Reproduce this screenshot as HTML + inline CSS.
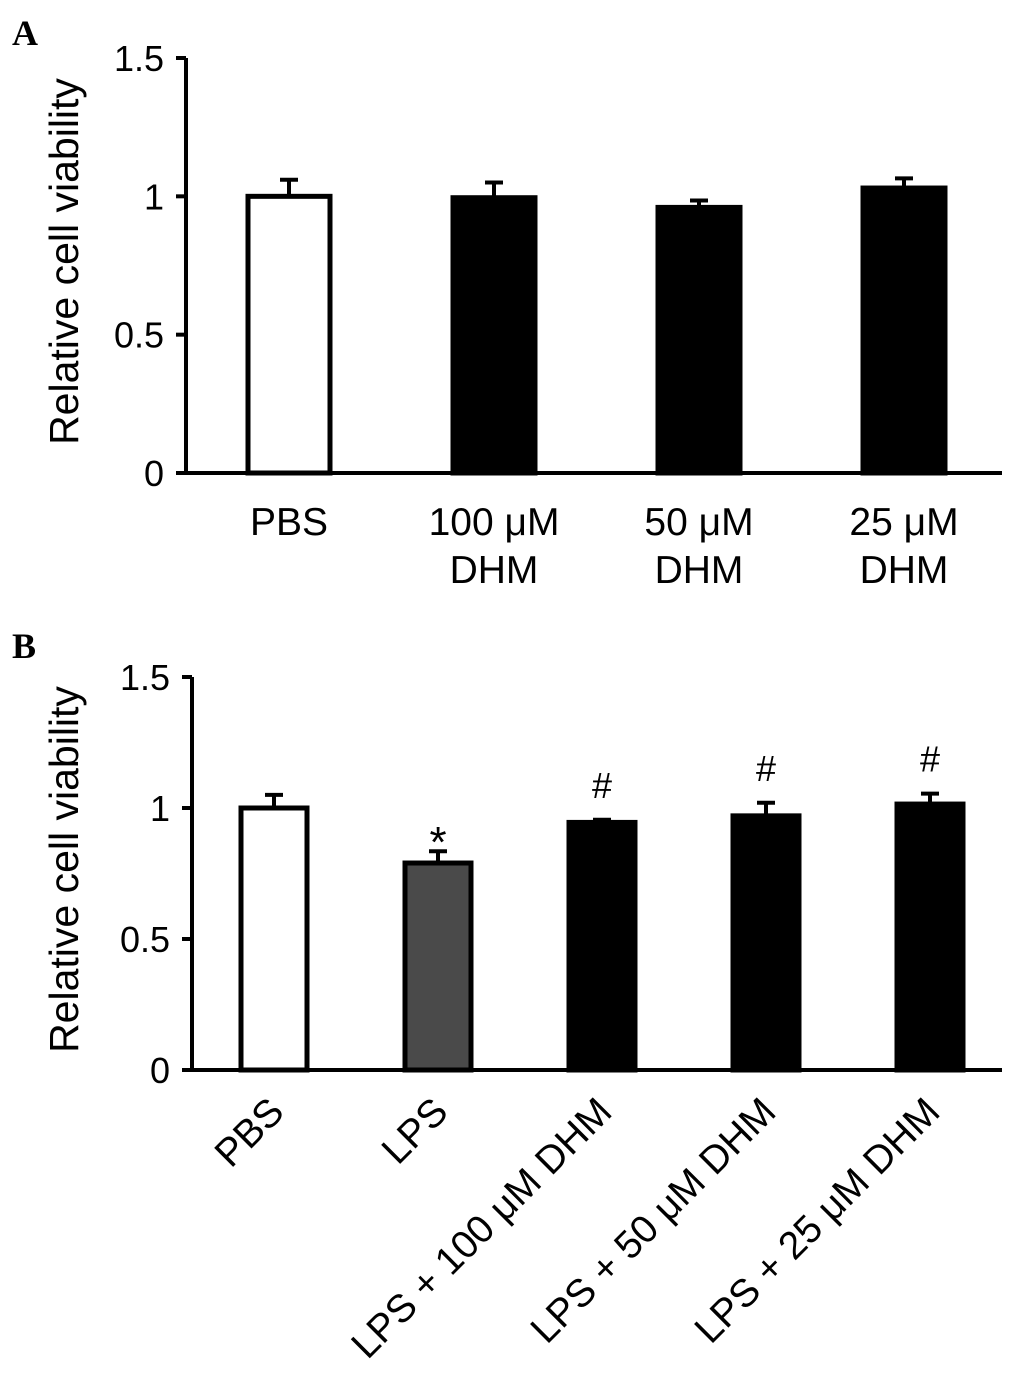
<!DOCTYPE html>
<html><head><meta charset="utf-8"><style>
html,body{margin:0;padding:0;background:#fff;}
svg{display:block;font-family:"Liberation Sans",Arial,sans-serif;}
</style></head><body>
<svg id="chart" width="1022" height="1381" viewBox="0 0 1022 1381" xmlns="http://www.w3.org/2000/svg">
<text x="12" y="45" font-family="Liberation Serif,serif" font-weight="bold" font-size="36">A</text>
<text x="12" y="658" font-family="Liberation Serif,serif" font-weight="bold" font-size="36">B</text>
<g id="pa"></g>
<g id="pb"></g>
</svg>
<script>
// Panel A data
const catsA = [["PBS"],["100 μM","DHM"],["50 μM","DHM"],["25 μM","DHM"]];
const valsA = [1.00, 0.995, 0.96, 1.03];
const errA = [0.06, 0.055, 0.025, 0.035];
const fillA = ["#fff","#000","#000","#000"];
// Panel B data
const catsB = ["PBS","LPS","LPS + 100 μM DHM","LPS + 50 μM DHM","LPS + 25 μM DHM"];
const valsB = [1.00, 0.79, 0.945, 0.97, 1.015];
const errB = [0.05, 0.045, 0.01, 0.05, 0.04];
const fillB = ["#fff","#4a4a4a","#000","#000","#000"];
const markB = ["","*","#","#","#"];
const ticks = [0, 0.5, 1, 1.5];
const tickLabels = ["0","0.5","1","1.5"];

const NS="http://www.w3.org/2000/svg";
function mk(parent,tag,attrs,text){const e=document.createElementNS(NS,tag);for(const k in attrs)e.setAttribute(k,attrs[k]);if(text!==undefined)e.textContent=text;parent.appendChild(e);return e;}

function panel(g,cfg){
  const y=v=>cfg.y0-(v/1.5)*(cfg.y0-cfg.y15);
  const x=i=>cfg.start+i*cfg.step;
  let e=mk(g,'line',{x1:cfg.ax,y1:cfg.y15,x2:cfg.ax,y2:cfg.y0,stroke:'#000','stroke-width':4});
  
  
  e=mk(g,'line',{x1:cfg.ax-10,y1:cfg.y0,x2:1002,y2:cfg.y0,stroke:'#000','stroke-width':4});
  
  
  ticks.forEach((t,i)=>{
    const l=mk(g,'line',{x1:cfg.ax-10,y1:y(t),x2:cfg.ax,y2:y(t),stroke:'#000','stroke-width':4});
    
    
    const tx=mk(g,'text',{x:cfg.ax-22,y:y(t)+13,'text-anchor':'end','font-size':36},tickLabels[i]);
    
    
  });
  const yt=mk(g,'text',{x:0,y:0,'text-anchor':'middle','font-size':41,transform:`translate(${cfg.titleX},${(cfg.y0+cfg.y15)/2-4}) rotate(-90)`},'Relative cell viability');
  
  
  cfg.vals.forEach((v,i)=>{
    const cx=x(i), w=cfg.bw;
    const el=mk(g,'line',{x1:cx,y1:y(v),x2:cx,y2:y(v+cfg.err[i]),stroke:'#000','stroke-width':4});
    
    
    const cap=mk(g,'line',{x1:cx-9,y1:y(v+cfg.err[i]),x2:cx+9,y2:y(v+cfg.err[i]),stroke:'#000','stroke-width':4});
    
    
    const r=mk(g,'rect',{x:cx-w/2,y:y(v),width:w,height:cfg.y0-y(v),fill:cfg.fill[i],stroke:'#000','stroke-width':5});
    
    
    if(cfg.marks&&cfg.marks[i]){
      const star=cfg.marks[i]=='*';
      const m=mk(g,'text',{x:cx,y:y(v+cfg.err[i])-(star?-6:22),'text-anchor':'middle','font-size':star?44:36},cfg.marks[i]);
      
      
    }
    cfg.label(g,cx,i);
  });
}
panel(document.getElementById('pa'),{ax:186,start:289,step:205,bw:82,y0:473,y15:58,titleX:78,vals:valsA,err:errA,fill:fillA,
  label:(g,cx,i)=>{catsA[i].forEach((s,j)=>{const t=mk(g,'text',{x:cx,y:535+j*48,'text-anchor':'middle','font-size':39},s);
    
    });}});
panel(document.getElementById('pb'),{ax:192,start:274,step:164,bw:66,y0:1070,y15:677,titleX:78,vals:valsB,err:errB,fill:fillB,marks:markB,
  label:(g,cx,i)=>{const t=mk(g,'text',{x:0,y:0,'text-anchor':'end','font-size':39,transform:`translate(${cx+12},${1114}) rotate(-45)`},catsB[i]);
    
    }});
</script>
</body></html>
